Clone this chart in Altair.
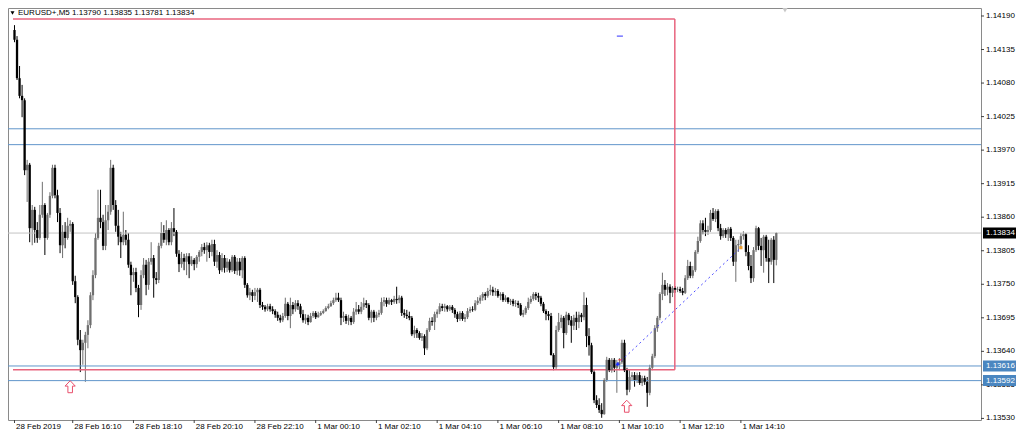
import altair as alt
import pandas as pd

# ---------------- data (EURUSD+ M5, 28 Feb 2019 14:15 -> 1 Mar 2019 15:20) ----------------
opens = [
1.14167,1.14151,1.14088,1.14059,1.14052,1.13937,1.13946,1.13842,1.13872,1.13839,
1.13826,1.13864,1.13880,1.13826,1.13864,1.13895,1.13941,1.13896,1.13867,1.13814,
1.13836,1.13826,1.13846,1.13849,1.13755,1.13729,1.13659,1.13642,1.13654,1.13667,
1.13683,1.13732,1.13765,1.13826,1.13859,1.13852,1.13813,1.13855,1.13869,1.13941,
1.13880,1.13846,1.13828,1.13819,1.13831,1.13823,1.13782,1.13765,1.13770,1.13744,
1.13716,1.13765,1.13782,1.13749,1.13787,1.13793,1.13760,1.13757,1.13813,1.13834,
1.13823,1.13839,1.13819,1.13842,1.13836,1.13800,1.13783,1.13793,1.13787,1.13796,
1.13783,1.13790,1.13783,1.13795,1.13803,1.13811,1.13806,1.13814,1.13803,1.13816,
1.13787,1.13798,1.13773,1.13793,1.13777,1.13787,1.13773,1.13795,1.13772,1.13787,
1.13773,1.13793,1.13749,1.13732,1.13737,1.13731,1.13737,1.13741,1.13716,1.13713,
1.13709,1.13714,1.13709,1.13706,1.13700,1.13695,1.13691,1.13698,1.13718,1.13698,
1.13716,1.13709,1.13719,1.13714,1.13701,1.13691,1.13695,1.13688,1.13698,1.13703,
1.13696,1.13700,1.13703,1.13706,1.13711,1.13714,1.13719,1.13724,1.13728,1.13724,
1.13695,1.13698,1.13690,1.13695,1.13688,1.13705,1.13709,1.13705,1.13713,1.13719,
1.13716,1.13695,1.13705,1.13695,1.13700,1.13703,1.13721,1.13724,1.13718,1.13724,
1.13721,1.13726,1.13724,1.13728,1.13703,1.13700,1.13698,1.13695,1.13668,1.13675,
1.13670,1.13662,1.13665,1.13645,1.13675,1.13690,1.13688,1.13701,1.13705,1.13714,
1.13711,1.13714,1.13709,1.13713,1.13708,1.13701,1.13693,1.13703,1.13693,1.13696,
1.13706,1.13709,1.13708,1.13719,1.13723,1.13728,1.13734,1.13731,1.13739,1.13741,
1.13737,1.13739,1.13731,1.13734,1.13724,1.13728,1.13721,1.13723,1.13718,1.13719,
1.13716,1.13700,1.13703,1.13711,1.13721,1.13726,1.13734,1.13731,1.13728,1.13718,
1.13706,1.13701,1.13698,1.13634,1.13614,1.13675,1.13688,1.13695,1.13670,1.13700,
1.13691,1.13682,1.13695,1.13688,1.13700,1.13696,1.13716,1.13665,1.13650,1.13606,
1.13560,1.13552,1.13544,1.13537,1.13593,1.13626,1.13609,1.13626,1.13613,1.13618,
1.13622,1.13654,1.13609,1.13577,1.13598,1.13601,1.13593,1.13601,1.13588,1.13596,
1.13590,1.13572,1.13613,1.13632,1.13678,1.13695,1.13734,1.13749,1.13741,1.13746,
1.13736,1.13744,1.13741,1.13742,1.13739,1.13736,1.13760,1.13780,1.13764,1.13773,
1.13803,1.13821,1.13850,1.13839,1.13836,1.13839,1.13867,1.13857,1.13870,1.13842,
1.13829,1.13839,1.13832,1.13841,1.13826,1.13787,1.13814,1.13816,1.13829,1.13832,
1.13803,1.13780,1.13760,1.13806,1.13842,1.13813,1.13806,1.13828,1.13793,1.13787,
1.13823,1.13790]

highs = [
1.14175,1.14157,1.14108,1.14077,1.14055,1.13954,1.13949,1.13880,1.13877,1.13852,
1.13880,1.13918,1.13883,1.13867,1.13901,1.13946,1.13946,1.13905,1.13875,1.13847,
1.13852,1.13859,1.13855,1.13852,1.13764,1.13732,1.13675,1.13659,1.13672,1.13691,
1.13737,1.13773,1.13834,1.13905,1.13905,1.13864,1.13880,1.13880,1.13954,1.13946,
1.13888,1.13872,1.13836,1.13869,1.13839,1.13834,1.13787,1.13777,1.13777,1.13749,
1.13773,1.13793,1.13790,1.13793,1.13819,1.13798,1.13770,1.13818,1.13852,1.13847,
1.13855,1.13842,1.13852,1.13875,1.13839,1.13806,1.13803,1.13800,1.13801,1.13801,
1.13796,1.13793,1.13798,1.13806,1.13816,1.13818,1.13819,1.13818,1.13823,1.13823,
1.13806,1.13803,1.13801,1.13798,1.13793,1.13791,1.13798,1.13798,1.13793,1.13793,
1.13796,1.13796,1.13752,1.13744,1.13741,1.13744,1.13744,1.13744,1.13721,1.13716,
1.13718,1.13718,1.13714,1.13709,1.13705,1.13700,1.13703,1.13728,1.13721,1.13728,
1.13721,1.13724,1.13724,1.13718,1.13708,1.13701,1.13700,1.13703,1.13706,1.13706,
1.13705,1.13706,1.13709,1.13714,1.13718,1.13723,1.13728,1.13736,1.13736,1.13728,
1.13705,1.13701,1.13700,1.13698,1.13711,1.13721,1.13716,1.13721,1.13728,1.13724,
1.13719,1.13708,1.13708,1.13705,1.13708,1.13728,1.13729,1.13728,1.13728,1.13726,
1.13731,1.13746,1.13732,1.13731,1.13709,1.13708,1.13705,1.13698,1.13682,1.13678,
1.13673,1.13670,1.13668,1.13678,1.13695,1.13696,1.13705,1.13709,1.13719,1.13718,
1.13718,1.13716,1.13716,1.13716,1.13711,1.13705,1.13706,1.13706,1.13701,1.13711,
1.13713,1.13714,1.13724,1.13729,1.13732,1.13737,1.13737,1.13744,1.13749,1.13746,
1.13744,1.13742,1.13737,1.13737,1.13732,1.13729,1.13726,1.13726,1.13724,1.13723,
1.13719,1.13708,1.13714,1.13728,1.13731,1.13737,1.13737,1.13736,1.13731,1.13721,
1.13709,1.13706,1.13703,1.13637,1.13682,1.13703,1.13700,1.13698,1.13705,1.13703,
1.13698,1.13700,1.13705,1.13705,1.13703,1.13737,1.13728,1.13678,1.13654,1.13609,
1.13568,1.13563,1.13555,1.13596,1.13631,1.13629,1.13629,1.13629,1.13626,1.13629,
1.13659,1.13659,1.13613,1.13609,1.13606,1.13606,1.13605,1.13606,1.13600,1.13600,
1.13598,1.13618,1.13636,1.13683,1.13698,1.13737,1.13769,1.13757,1.13752,1.13750,
1.13747,1.13747,1.13746,1.13746,1.13744,1.13765,1.13790,1.13787,1.13780,1.13806,
1.13828,1.13855,1.13855,1.13859,1.13846,1.13872,1.13875,1.13873,1.13873,1.13849,
1.13842,1.13842,1.13844,1.13844,1.13829,1.13823,1.13823,1.13834,1.13837,1.13834,
1.13814,1.13798,1.13811,1.13846,1.13844,1.13826,1.13831,1.13831,1.13823,1.13826,
1.13829,1.13835]

lows = [
1.14147,1.14085,1.14055,1.14024,1.13929,1.13885,1.13819,1.13814,1.13818,1.13818,
1.13823,1.13859,1.13798,1.13823,1.13859,1.13891,1.13891,1.13852,1.13801,1.13793,
1.13809,1.13823,1.13836,1.13749,1.13719,1.13650,1.13606,1.13618,1.13590,1.13645,
1.13678,1.13724,1.13760,1.13823,1.13842,1.13806,1.13806,1.13839,1.13864,1.13872,
1.13836,1.13814,1.13793,1.13814,1.13814,1.13777,1.13732,1.13754,1.13737,1.13696,
1.13708,1.13760,1.13732,1.13741,1.13782,1.13728,1.13750,1.13752,1.13809,1.13818,
1.13814,1.13814,1.13814,1.13829,1.13795,1.13770,1.13777,1.13773,1.13765,1.13760,
1.13780,1.13773,1.13777,1.13787,1.13796,1.13800,1.13787,1.13793,1.13796,1.13780,
1.13777,1.13767,1.13770,1.13769,1.13770,1.13769,1.13770,1.13767,1.13765,1.13764,
1.13760,1.13744,1.13728,1.13724,1.13721,1.13724,1.13721,1.13711,1.13708,1.13705,
1.13706,1.13705,1.13701,1.13695,1.13690,1.13687,1.13688,1.13695,1.13691,1.13678,
1.13701,1.13705,1.13708,1.13695,1.13687,1.13685,1.13683,1.13687,1.13695,1.13693,
1.13695,1.13698,1.13701,1.13705,1.13709,1.13713,1.13716,1.13721,1.13721,1.13683,
1.13688,1.13685,1.13683,1.13683,1.13685,1.13700,1.13701,1.13701,1.13708,1.13711,
1.13691,1.13687,1.13688,1.13691,1.13696,1.13700,1.13714,1.13713,1.13716,1.13716,
1.13718,1.13718,1.13719,1.13698,1.13695,1.13693,1.13691,1.13665,1.13662,1.13662,
1.13659,1.13657,1.13634,1.13642,1.13672,1.13682,1.13675,1.13695,1.13701,1.13706,
1.13705,1.13705,1.13706,1.13703,1.13695,1.13688,1.13690,1.13690,1.13688,1.13693,
1.13703,1.13705,1.13706,1.13716,1.13718,1.13723,1.13724,1.13728,1.13732,1.13731,
1.13731,1.13728,1.13724,1.13721,1.13721,1.13718,1.13716,1.13714,1.13713,1.13711,
1.13698,1.13696,1.13700,1.13708,1.13718,1.13723,1.13724,1.13721,1.13714,1.13703,
1.13691,1.13691,1.13633,1.13609,1.13611,1.13672,1.13678,1.13645,1.13667,1.13683,
1.13654,1.13675,1.13675,1.13678,1.13688,1.13691,1.13647,1.13633,1.13603,1.13555,
1.13547,1.13539,1.13531,1.13536,1.13590,1.13606,1.13605,1.13606,1.13572,1.13609,
1.13619,1.13606,1.13568,1.13573,1.13593,1.13582,1.13588,1.13585,1.13583,1.13585,
1.13549,1.13568,1.13609,1.13629,1.13672,1.13691,1.13724,1.13731,1.13732,1.13719,
1.13729,1.13736,1.13737,1.13736,1.13732,1.13734,1.13757,1.13760,1.13760,1.13770,
1.13800,1.13818,1.13832,1.13829,1.13831,1.13836,1.13854,1.13852,1.13837,1.13823,
1.13826,1.13826,1.13821,1.13821,1.13780,1.13754,1.13803,1.13809,1.13823,1.13796,
1.13773,1.13752,1.13754,1.13803,1.13806,1.13780,1.13769,1.13787,1.13752,1.13782,
1.13752,1.13781]

closes = [
1.14151,1.14088,1.14059,1.14052,1.13937,1.13946,1.13842,1.13872,1.13839,1.13826,
1.13864,1.13880,1.13826,1.13864,1.13895,1.13941,1.13896,1.13867,1.13814,1.13836,
1.13826,1.13846,1.13849,1.13755,1.13729,1.13659,1.13642,1.13654,1.13667,1.13683,
1.13732,1.13765,1.13826,1.13859,1.13852,1.13813,1.13855,1.13869,1.13941,1.13880,
1.13846,1.13828,1.13819,1.13831,1.13823,1.13782,1.13765,1.13770,1.13744,1.13716,
1.13765,1.13782,1.13749,1.13787,1.13793,1.13760,1.13757,1.13813,1.13834,1.13823,
1.13839,1.13819,1.13842,1.13836,1.13800,1.13783,1.13793,1.13787,1.13796,1.13783,
1.13790,1.13783,1.13795,1.13803,1.13811,1.13806,1.13814,1.13803,1.13816,1.13787,
1.13798,1.13773,1.13793,1.13777,1.13787,1.13773,1.13795,1.13772,1.13787,1.13773,
1.13793,1.13749,1.13732,1.13737,1.13731,1.13737,1.13741,1.13716,1.13713,1.13709,
1.13714,1.13709,1.13706,1.13700,1.13695,1.13691,1.13698,1.13718,1.13698,1.13716,
1.13709,1.13719,1.13714,1.13701,1.13691,1.13695,1.13688,1.13698,1.13703,1.13696,
1.13700,1.13703,1.13706,1.13711,1.13714,1.13719,1.13724,1.13728,1.13724,1.13695,
1.13698,1.13690,1.13695,1.13688,1.13705,1.13709,1.13705,1.13713,1.13719,1.13716,
1.13695,1.13705,1.13695,1.13700,1.13703,1.13721,1.13724,1.13718,1.13724,1.13721,
1.13726,1.13724,1.13728,1.13703,1.13700,1.13698,1.13695,1.13668,1.13675,1.13670,
1.13662,1.13665,1.13645,1.13675,1.13690,1.13688,1.13701,1.13705,1.13714,1.13711,
1.13714,1.13709,1.13713,1.13708,1.13701,1.13693,1.13703,1.13693,1.13696,1.13706,
1.13709,1.13708,1.13719,1.13723,1.13728,1.13734,1.13731,1.13739,1.13741,1.13737,
1.13739,1.13731,1.13734,1.13724,1.13728,1.13721,1.13723,1.13718,1.13719,1.13716,
1.13700,1.13703,1.13711,1.13721,1.13726,1.13734,1.13731,1.13728,1.13718,1.13706,
1.13701,1.13698,1.13634,1.13614,1.13675,1.13688,1.13695,1.13670,1.13700,1.13691,
1.13682,1.13695,1.13688,1.13700,1.13696,1.13716,1.13665,1.13650,1.13606,1.13560,
1.13552,1.13544,1.13537,1.13593,1.13626,1.13609,1.13626,1.13613,1.13618,1.13622,
1.13654,1.13609,1.13577,1.13598,1.13601,1.13593,1.13601,1.13588,1.13596,1.13590,
1.13572,1.13613,1.13632,1.13678,1.13695,1.13734,1.13749,1.13741,1.13746,1.13736,
1.13744,1.13741,1.13742,1.13739,1.13736,1.13760,1.13780,1.13764,1.13773,1.13803,
1.13821,1.13850,1.13839,1.13836,1.13839,1.13867,1.13857,1.13870,1.13842,1.13829,
1.13839,1.13832,1.13841,1.13826,1.13787,1.13814,1.13816,1.13829,1.13832,1.13803,
1.13780,1.13760,1.13806,1.13842,1.13813,1.13806,1.13828,1.13793,1.13787,1.13823,
1.13790,1.13834]

tick_bars = [0, 23, 47, 71, 95, 119, 143, 167, 191, 215, 239, 263, 287]
tick_labels = ["28 Feb 2019", "28 Feb 16:10", "28 Feb 18:10", "28 Feb 20:10",
               "28 Feb 22:10", "1 Mar 00:10", "1 Mar 02:10", "1 Mar 04:10",
               "1 Mar 06:10", "1 Mar 08:10", "1 Mar 10:10", "1 Mar 12:10",
               "1 Mar 14:10"]
price_ticks = [1.13530, 1.13585, 1.13640, 1.13695, 1.13750, 1.13805, 1.13860,
               1.13915, 1.13970, 1.14025, 1.14080, 1.14135, 1.14190]
price_tick_labels = ["1.13530", "1.13585", "1.13640", "1.13695", "1.13750", "1.13805",
                     "1.13860", "1.13915", "1.13970", "1.14025", "1.14080", "1.14135",
                     "1.14190"]

level_prices = [1.14005, 1.13979, 1.13616, 1.13592]
bid_price = 1.13834
box_prices = [1.13834, 1.13616, 1.13592]
box_labels = ["1.13834", "1.13616", "1.13592"]
box_colors = ["#000000", "#4a86c0", "#4a86c0"]

rect_left_bar, rect_right_bar = -0.59, 260.9
rect_top, rect_bottom = 1.14185, 1.13610
trend_bars = [238.3, 287.0]
trend_prices = [1.13619, 1.13810]
arrow_bars = [22.0, 241.9]
arrow_prices = [1.13582, 1.13550]
header = "EURUSD+,M5  1.13790 1.13835 1.13781 1.13834"

# ---------------- chart ----------------
W, H = 973, 412
FONT = "Liberation Sans"
FS = 8
BULL, BEAR = "#6f6f6f", "#000000"

xs = alt.Scale(domain=[-0.59, 379.9], nice=False, zero=False)
ys = alt.Scale(domain=[1.135274, 1.142031], nice=False, zero=False)


def X(field):
    return alt.X(field, scale=xs, axis=None)


def Y(field):
    return alt.Y(field, scale=ys, axis=None)


df = pd.DataFrame({"bar": list(range(len(opens))), "open": opens, "high": highs,
                   "low": lows, "close": closes})
candle_color = alt.condition(alt.datum.close >= alt.datum.open, alt.value(BULL), alt.value(BEAR))

wicks = alt.Chart(df).mark_rule(strokeWidth=1).encode(
    x=X("bar:Q"), y=Y("low:Q"), y2="high:Q", color=candle_color)
bodies = alt.Chart(df).mark_bar(size=2.3).encode(
    x=X("bar:Q"), y=Y("open:Q"), y2="close:Q", color=candle_color)

bid_line = alt.Chart(pd.DataFrame({"price": [bid_price]})).mark_rule(
    color="#c4c4c4", strokeWidth=1).encode(y=Y("price:Q"), x=alt.value(0), x2=alt.value(W))

levels = alt.Chart(pd.DataFrame({"price": level_prices})).mark_rule(
    color="#6196cb", strokeWidth=1).encode(y=Y("price:Q"), x=alt.value(0), x2=alt.value(W))

rect_df = pd.DataFrame({
    "x": [rect_left_bar, rect_left_bar, rect_right_bar],
    "x2": [rect_right_bar, rect_right_bar, rect_right_bar],
    "y": [rect_top, rect_bottom, rect_bottom],
    "y2": [rect_top, rect_bottom, rect_top],
})
rect = alt.Chart(rect_df).mark_rule(color="#e8647e", strokeWidth=1.5).encode(
    x=X("x:Q"), x2="x2:Q", y=Y("y:Q"), y2="y2:Q")

trend = alt.Chart(pd.DataFrame({"x": [trend_bars[0]], "x2": [trend_bars[1]],
                                "y": [trend_prices[0]], "y2": [trend_prices[1]]})).mark_rule(
    color="#4a4aff", strokeWidth=1, strokeDash=[2, 3]).encode(
    x=X("x:Q"), x2="x2:Q", y=Y("y:Q"), y2="y2:Q")

trend_start = alt.Chart(pd.DataFrame({"x": [trend_bars[0]], "y": [trend_prices[0]]})).mark_point(
    shape="cross", size=14, filled=True, color="#2030ff", opacity=1).encode(
    x=X("x:Q"), y=Y("y:Q"))
trend_end = alt.Chart(pd.DataFrame({"x": [trend_bars[1]], "y": [trend_prices[1]]})).mark_point(
    shape="square", size=10, filled=True, color="#f0a030", opacity=1).encode(
    x=X("x:Q"), y=Y("y:Q"))

marks_df = pd.DataFrame({"x": [238.6, 238.0], "x2": [239.9, 240.4],
                         "y": [1.13626, 1.14157], "c": ["#ff2020", "#3030ff"]})
small_marks = alt.Chart(marks_df).mark_rule(strokeWidth=1).encode(
    x=X("x:Q"), x2="x2:Q", y=Y("y:Q"), color=alt.Color("c:N", scale=None))

ARROW = "M0,-1L0.85,-0.1L0.38,-0.1L0.38,1L-0.38,1L-0.38,-0.1L-0.85,-0.1Z"
arrows = alt.Chart(pd.DataFrame({"x": arrow_bars, "y": arrow_prices})).mark_point(
    shape=ARROW, size=144, filled=False, color="#e8506c", strokeWidth=1, opacity=1).encode(
    x=X("x:Q"), y=Y("y:Q"))

# ----- MT4-style axes drawn from the tick arrays -----
tdf = pd.DataFrame({"bar": tick_bars, "label": tick_labels})
time_ticks = alt.Chart(tdf).mark_rule(color="#404040", strokeWidth=1).encode(
    x=X("bar:Q"), y=alt.value(H), y2=alt.value(H + 3))
time_text = alt.Chart(tdf).mark_text(font=FONT, fontSize=FS, color="#000000", align="left",
                                     baseline="top", dx=1.5).encode(
    x=X("bar:Q"), y=alt.value(H + 3), text="label:N")

pdf = pd.DataFrame({"price": price_ticks, "label": price_tick_labels})
price_tick_marks = alt.Chart(pdf).mark_rule(color="#404040", strokeWidth=1).encode(
    y=Y("price:Q"), x=alt.value(W), x2=alt.value(W + 3))
price_text = alt.Chart(pdf).mark_text(font=FONT, fontSize=FS, color="#000000", align="left",
                                      baseline="middle").encode(
    y=Y("price:Q"), x=alt.value(W + 5), text="label:N")

box_df = pd.DataFrame({"y": box_prices, "t": box_labels, "c": box_colors})
BOX = "M-1,-0.333L1,-0.333L1,0.333L-1,0.333Z"
boxes = alt.Chart(box_df).mark_point(shape=BOX, size=1089, filled=True, opacity=1,
                                     strokeWidth=0).encode(
    x=alt.value(W + 18.5), y=Y("y:Q"), color=alt.Color("c:N", scale=None))
box_text = alt.Chart(box_df).mark_text(color="white", font=FONT, fontSize=FS,
                                       align="left", baseline="middle").encode(
    x=alt.value(W + 5), y=Y("y:Q"), text="t:N")

head_df = pd.DataFrame({"t": [header]})
head_text = alt.Chart(head_df).mark_text(font=FONT, fontSize=FS, color="#000000",
                                         align="left", baseline="top").encode(
    x=alt.value(10), y=alt.value(1), text="t:N")
head_tri = alt.Chart(head_df).mark_point(shape="triangle-down", size=16, filled=True,
                                         color="#000000", opacity=1).encode(
    x=alt.value(4.5), y=alt.value(5))
shift_tri = alt.Chart(head_df).mark_point(shape="triangle-down", size=45, filled=True,
                                          color="#c8c8c8", opacity=1).encode(
    x=alt.value(777), y=alt.value(1.5))

chart = alt.layer(
    wicks, bid_line, levels, rect, bodies, trend, trend_start, trend_end, small_marks,
    arrows, time_ticks, time_text, price_tick_marks, price_text, boxes, box_text,
    head_text, head_tri, shift_tri,
).properties(
    width=W, height=H,
    autosize=alt.AutoSizeParams(type="none"),
    padding={"left": 0, "top": 0, "right": 35, "bottom": 14},
    background="white",
).configure_view(stroke="#8a8a8a", strokeWidth=1)

chart.save("out.html", embed_options={"renderer": "svg", "actions": False})
